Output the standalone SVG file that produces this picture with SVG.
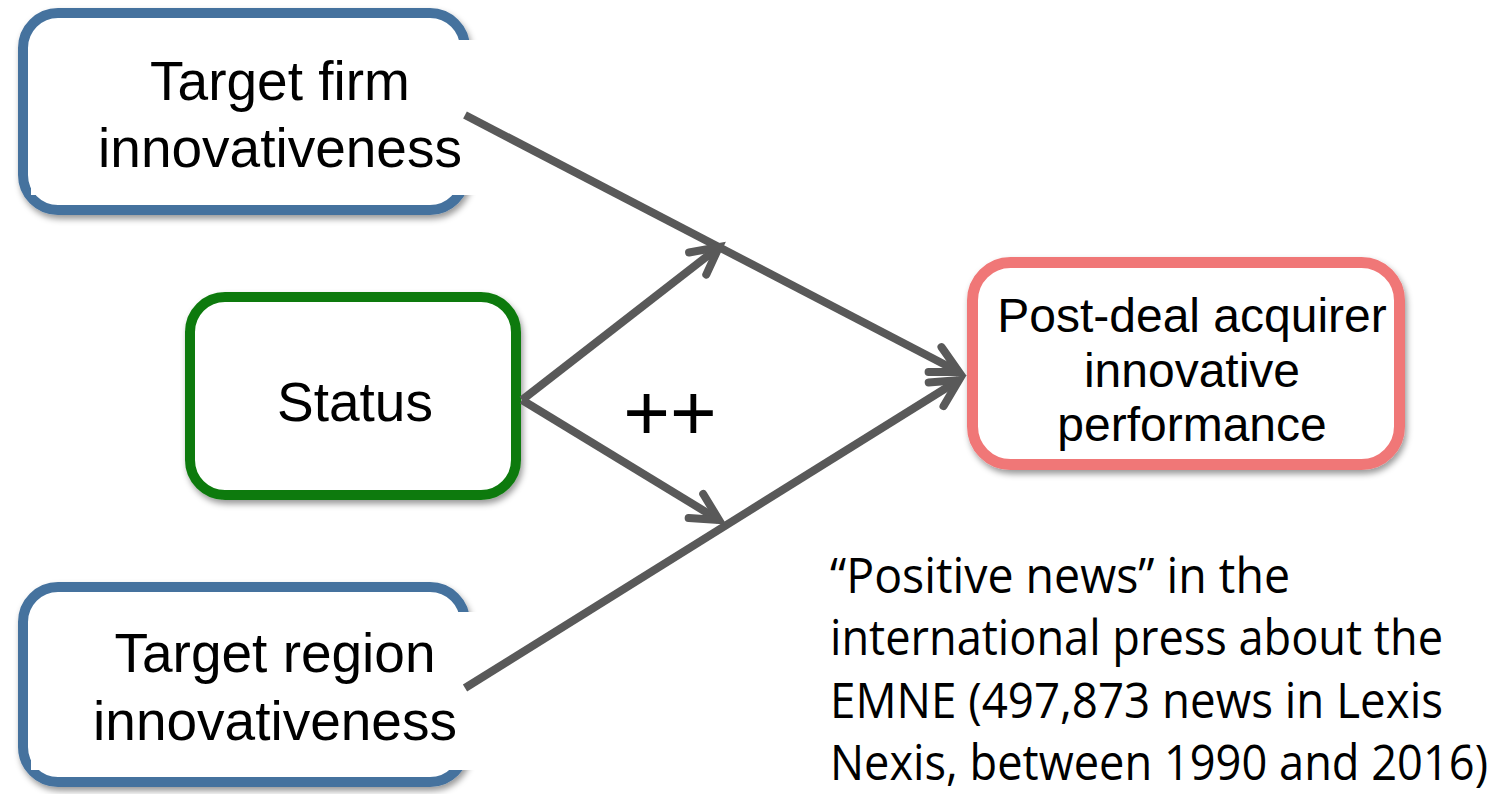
<svg xmlns="http://www.w3.org/2000/svg" width="1501" height="794" viewBox="0 0 1501 794">
  <defs>
    <filter id="shadow" x="-10%" y="-10%" width="120%" height="125%">
      <feDropShadow dx="2" dy="4" stdDeviation="3" flood-color="#000" flood-opacity="0.4"/>
    </filter>
    <marker id="arrow" markerUnits="userSpaceOnUse" viewBox="-40 -25 50 50" markerWidth="50" markerHeight="50" refX="0" refY="0" orient="auto" overflow="visible">
      <path d="M-27,-14 L0,0 L-27,14" fill="none" stroke="#595959" stroke-width="8" stroke-linecap="round" stroke-linejoin="miter"/>
    </marker>
    <style>
      .box { fill: #fff; filter: url(#shadow); }
      .blue { stroke: #45729e; stroke-width: 10; }
      .green { stroke: #0a7a0a; stroke-width: 10; }
      .pink { stroke: #f07777; stroke-width: 11; }
      .lbl { font-family: "Liberation Sans", Arial, sans-serif; fill: #000; text-anchor: middle; }
      .note { font-family: "Open Sans", "Noto Sans", sans-serif; fill: #000; font-size: 44px; }
      .conn { fill: none; stroke: #595959; stroke-width: 8; marker-end: url(#arrow); }
    </style>
  </defs>
  <rect width="1501" height="794" fill="#fff"/>

  <g id="node-target-firm">
    <rect class="box blue" x="23" y="13" width="442" height="197" rx="35"/>
    <rect x="31" y="40" width="448" height="155" fill="#fff"/>
    <text class="lbl" font-size="55" x="280" y="100">Target firm</text>
    <text class="lbl" font-size="55" x="280" y="167">innovativeness</text>
  </g>

  <g id="node-status">
    <rect class="box green" x="190" y="297" width="326" height="198" rx="35"/>
    <text class="lbl" font-size="55" x="355" y="421">Status</text>
  </g>

  <g id="node-target-region">
    <rect class="box blue" x="23" y="587" width="442" height="195" rx="35"/>
    <rect x="31" y="612" width="448" height="158" fill="#fff"/>
    <text class="lbl" font-size="55" x="275" y="672">Target region</text>
    <text class="lbl" font-size="55" x="275" y="740">innovativeness</text>
  </g>

  <g id="node-post-deal">
    <rect class="box pink" x="972.5" y="262.5" width="427" height="202" rx="38"/>
    <text class="lbl" font-size="48" x="1192" y="332">Post-deal acquirer</text>
    <text class="lbl" font-size="48" x="1192" y="387">innovative</text>
    <text class="lbl" font-size="48" x="1192" y="441">performance</text>
  </g>

  <g id="connectors">
    <line class="conn" x1="465" y1="115" x2="959" y2="372"/>
    <line class="conn" x1="465" y1="688" x2="959" y2="380"/>
    <line class="conn" x1="522" y1="400" x2="719" y2="247"/>
    <line class="conn" x1="522" y1="400" x2="719" y2="520"/>
  </g>

  <g id="label-plus">
    <text class="lbl" font-size="80" x="670" y="440">++</text>
  </g>

  <g id="note" transform="translate(830,0) scale(1,1.1)">
    <text class="note" x="0" y="539.1" textLength="460" lengthAdjust="spacingAndGlyphs">“Positive news” in the</text>
    <text class="note" x="0" y="595.5" textLength="613" lengthAdjust="spacingAndGlyphs">international press about the</text>
    <text class="note" x="0" y="652.7" textLength="613" lengthAdjust="spacingAndGlyphs">EMNE (497,873 news in Lexis</text>
    <text class="note" x="0" y="709" textLength="658" lengthAdjust="spacingAndGlyphs">Nexis, between 1990 and 2016)</text>
  </g>
</svg>
